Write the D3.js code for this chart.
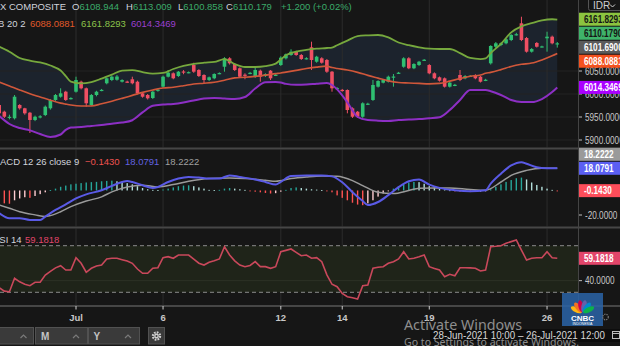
<!DOCTYPE html>
<html>
<head>
<meta charset="utf-8">
<script src="https://cdn.jsdelivr.net/npm/d3@7/dist/d3.min.js"></script>
<style>
  html, body { margin: 0; padding: 0; background: #161616; overflow: hidden; }
  svg { display: block; font-family: "Liberation Sans", Arial, sans-serif; }
</style>
</head>
<body>
<svg id="chart" width="620" height="346"></svg>
<script>
// ---------- hourly candles, 28-Jun-2021 10:00 .. 26-Jul-2021 12:00 ----------
const candleOpen = [
  5976.1,5961.5,5949.5,5947.2,5976.1,5968.9,5959.3,5943.5,5950.6,5954.3,
  5968.9,5987.0,5994.1,6005.0,5990.0,6005.0,6026.7,6012.4,5976.1,5997.8,
  6008.0,6023.3,6030.4,6031.0,6026.7,6027.0,6032.0,6026.7,6001.5,5997.8,
  5991.3,6008.0,6015.9,6037.6,6045.0,6039.1,6049.0,6047.0,6063.0,6052.2,
  6041.3,6030.4,6034.1,6044.5,6059.3,6077.6,6065.2,6055.9,6042.0,6045.0,
  6037.6,6050.7,6039.1,6050.7,6041.0,6063.0,6077.6,6084.8,6092.0,6084.8,
  6077.0,6101.5,6070.2,6077.6,6073.9,6048.5,6012.0,6009.0,6008.7,5968.9,
  5961.5,5950.6,5978.0,5987.0,6015.9,6024.6,6026.7,6036.5,6045.5,6059.3,
  6077.6,6055.9,6063.0,6073.5,6063.0,6045.0,6036.3,6034.1,6015.9,6019.0,
  6041.3,6034.1,6038.5,6041.3,6037.6,6030.0,6066.7,6102.8,6106.5,6110.2,
  6117.4,6129.0,6153.7,6121.7,6092.0,6110.9,6102.5,6121.1,6124.6,6108.944];
const candleHigh = [
  5980.4,5963.7,5955.0,5997.8,5978.0,5970.0,5961.0,5953.0,5954.0,5975.0,
  5989.0,6000.0,6012.4,6007.0,5993.0,6037.6,6029.0,6014.0,6000.0,6007.0,
  6011.0,6036.0,6040.0,6041.3,6032.0,6029.0,6037.6,6029.0,6003.0,6000.0,
  6007.0,6012.0,6040.0,6052.2,6047.0,6050.0,6052.0,6049.0,6068.0,6054.0,
  6043.0,6038.0,6045.0,6047.0,6080.0,6080.0,6067.0,6058.0,6045.0,6048.0,
  6059.3,6053.0,6045.0,6052.0,6044.0,6082.0,6088.0,6097.2,6094.0,6087.0,
  6080.0,6113.7,6083.0,6080.0,6076.0,6050.0,6015.0,6011.0,6010.0,5971.0,
  5963.0,5982.0,5981.0,6030.4,6030.0,6032.0,6040.0,6043.5,6048.0,6080.0,
  6080.0,6067.0,6072.0,6076.0,6065.0,6047.0,6038.0,6036.0,6026.0,6022.0,
  6052.2,6041.0,6041.0,6043.0,6039.0,6033.0,6106.0,6113.0,6112.0,6121.0,
  6130.0,6133.0,6168.0,6124.0,6100.0,6113.0,6105.0,6135.4,6127.0,6113.009];
const candleLow = [
  5954.3,5947.8,5945.0,5944.6,5966.0,5955.0,5915.2,5941.0,5947.0,5952.0,
  5966.0,5985.0,5992.0,5985.0,5988.0,6003.0,6010.0,5972.4,5974.0,5995.0,
  6006.0,6021.0,6028.0,6029.0,6025.0,6024.0,6021.0,5999.0,5992.0,5988.0,
  5989.0,6005.0,6013.0,6036.0,6032.0,6037.0,6043.0,6045.0,6046.0,6037.0,
  6023.9,6028.0,6032.0,6043.0,6048.5,6064.0,6050.0,6035.0,6032.0,6043.0,
  6035.0,6026.7,6037.0,6030.4,6039.0,6061.0,6075.0,6083.0,6083.0,6074.0,
  6075.0,6052.2,6068.0,6066.0,6046.0,6005.0,6009.0,6005.0,5958.0,5948.0,
  5947.8,5948.0,5976.0,5985.0,6014.0,6023.0,6025.0,6015.9,6044.0,6057.0,
  6054.0,6054.0,6061.0,6072.0,6043.0,6032.0,6027.0,6014.0,6014.0,6017.0,
  6028.0,6032.0,6037.0,6032.0,6025.0,6028.0,6064.0,6100.0,6104.0,6108.0,
  6115.0,6127.0,6115.0,6090.0,6090.0,6101.0,6101.0,6092.0,6108.0,6100.858];
const candleClose = [
  5958.0,5950.6,5950.5,5994.1,5968.9,5958.0,5943.5,5950.6,5951.5,5972.4,
  5987.0,5997.8,6001.5,5987.0,5991.2,6030.4,6012.4,5979.8,5997.8,6005.0,
  6009.0,6034.1,6037.6,6038.0,6030.4,6026.5,6023.3,6001.5,5994.1,5990.6,
  6005.0,6009.5,6037.6,6046.3,6034.1,6048.5,6047.5,6047.5,6048.5,6039.1,
  6030.4,6036.3,6043.5,6045.5,6077.6,6066.7,6052.2,6037.6,6040.5,6046.0,
  6052.2,6037.6,6043.5,6034.1,6041.8,6079.0,6086.3,6092.0,6084.8,6076.1,
  6077.8,6073.9,6081.1,6068.0,6048.5,6012.4,6013.0,6008.0,5965.2,5950.6,
  5950.6,5979.8,5979.0,6019.6,6028.3,6030.4,6037.6,6038.0,6046.3,6077.6,
  6055.9,6065.2,6070.2,6074.5,6045.0,6034.1,6028.9,6015.9,6024.6,6020.0,
  6030.4,6039.1,6039.5,6034.1,6026.7,6031.0,6104.4,6110.2,6110.2,6118.9,
  6128.3,6130.0,6117.4,6092.0,6097.8,6102.8,6103.5,6124.6,6110.2,6110.179];

// ---------- Bollinger Bands (20, 2), sampled at these bar indices ----------
const bandIdx = [0,2,4,6,8,10,12,13,14,16,18,20,22,24,26,28,30,32,34,36,38,40,42,44,46,48,50,52,54,55,
  56,58,60,62,64,65,66,68,70,72,74,76,78,80,82,84,86,88,90,92,94,95,96,98,100,102,104,106,108,109];
const bbUpper = [6102.8,6092,6078.3,6072.4,6068.5,6062,6051,6039,6027,6023,6026,6033.5,6042,6051,6052,
  6047.5,6044.5,6045.7,6054.3,6061,6065.5,6068,6069.6,6076,6065,6058.7,6058.7,6060.5,6066,6075,
  6084,6092,6096,6098.5,6100,6101,6106,6116,6126,6127.5,6128.3,6123,6112,6106,6101.5,6098.5,6097.8,
  6097.8,6089,6078.3,6076,6077.5,6089,6109,6134,6147,6154,6160,6162.5,6161.8293];
const bbMiddle = [6026,6017.4,6008.7,6000.5,5993.5,5986.5,5980.2,5978,5976,5973.9,5973.9,5978.8,5984.3,
  5990.5,5997,6003.5,6008.7,6013,6014.7,6018,6021.7,6023.4,6025.5,6030,6035,6036.3,6038.3,6041,6044.3,
  6045.7,6047.5,6051.3,6055.3,6058.5,6060.5,6057.5,6055.5,6052,6047,6040.5,6034.5,6028.5,6025,6024,
  6023,6022,6023,6028,6033.5,6038.5,6041.3,6045,6047,6053,6060,6064.5,6067.2,6074,6083,6088.0881];
const bbLower = [5952.2,5934.8,5926.1,5921,5913,5906.5,5912,5922,5927,5928.3,5930.5,5932.6,5935.5,5938,
  5943,5960,5974.5,5977,5978.3,5981.5,5986,5990,5991.3,5990,5989.1,5993.5,6012,6025.5,6026,6025,6022,
  6020,6020.5,6022.3,6023.9,6019.6,6010,5982,5950,5943.5,5942,5941.5,5943.5,5944.5,5945.6,5947.5,
  5949.5,5965.2,5987,6008.7,6008.7,6008.7,6006,5997.8,5987,5982.5,5982.5,5989,6004.3,6014.3469];

// ---------- MACD (12, 26, close, 9) ----------
const macdIdx = [0,2,4,6,8,9,11,13,15,17,20,22,24,25,26,28,30,31,33,35,37,39,41,43,45,47,50,52,54,55,
  57,60,63,65,67,69,71,72,74,76,78,80,82,84,86,89,92,95,96,98,100,102,103,105,107,109];
const macdLine = [-18.5,-22.6,-22.6,-24,-24,-21.3,-15.9,-11.3,-6.5,-3.2,0.2,3.7,6.9,7.7,6.9,4.3,2.1,
  2.9,6.9,9.7,11,10.5,9.7,9.7,12.3,11,8.9,6.9,4.8,7.0,11.8,12.3,12.3,11.5,6.7,-1.4,-8.6,-11.9,-9.4,
  -3.8,2.7,7.5,8.9,4.8,2.1,0.2,-0.6,0.2,5.6,13.7,20.4,23.1,21.8,19,18.2,18.0791];
const signalIdx = [0,2,4,7,9,10,12,14,17,20,22,25,28,31,34,37,41,45,48,52,54,57,60,63,66,69,71,74,77,
  80,82,85,88,92,95,98,100,103,106,109];
const signalLine = [-11.9,-14.5,-17.3,-19.9,-21.3,-20.5,-17.3,-13.2,-8.6,-5.2,-1.1,2.9,4.3,2.9,4.8,
  7.5,9.7,10.2,9.7,8.3,7.5,9.7,11,11.8,11.5,8,4,-1.5,-2.5,0,1.8,2.1,2.1,0.8,0.2,6.9,12.3,16.4,18.2,18.2222];
const macdHist = [
  -9,-10.5,-10.8,-8,-6.5,-5.5,-6,-4.5,-3,-1.5,
  0.3,1.5,3,4,5,5.5,6,6.5,6.8,7,
  7.5,7.8,8,7.5,7,6,5,3.5,2,1,
  0.5,0.3,0.8,1.5,2.5,3.5,4,4.2,3.5,2.5,
  1.5,0.5,0.3,0.5,1.5,2,1.5,1,0.5,-0.3,
  -1,-1.5,-2,-2.5,-2.2,-1,0.5,2,2.5,2,
  1.5,1,0.7,0.4,-0.3,-1.5,-4,-6,-8,-10,
  -11.5,-12,-10.5,-8,-5,-2.5,-0.5,1.5,3.5,5,
  6.5,7,6.8,5.5,3.5,2.5,1.5,0.8,0.2,-0.4,
  -1,-1.2,-1.3,-1.2,-1,-0.5,1,3,5,7,
  8.5,10,10.5,9,6.5,4.5,3,1.5,0.5,-0.143];

// ---------- RSI 14 ----------
const rsiValues = [
  34,31,30.5,42,39,37,35.7,38.6,38.6,44.8,
  48,51,52.8,49.1,49.1,59.7,54.9,47.2,50.6,52.6,
  53.4,58.6,59.2,59.2,58,56.9,54.9,50,46.3,46.3,
  50.6,51.1,59.7,60.6,59.2,62,62,62,58.5,55,
  53.4,55.8,57,58.6,69.1,62,57,53.4,52,53,
  56.3,52,52,50.6,52,64.8,66,67.2,64.3,61.4,
  62,59.2,59.7,56.3,45,36.9,34.8,29,26.2,25.4,
  24.2,35.7,36.3,50.6,51.5,52,54.9,56.3,58.6,64.8,
  58.6,59.2,60.5,62,52,50.5,49.1,43.4,45.5,44.2,
  51.1,51.1,51,50.6,48.3,49.1,69.1,69.5,70,72.1,
  73.5,74.9,66.3,57.7,59.2,59.7,59.7,64.8,59.7,59.1818];

// ---------- axes and legend values ----------
const timeTickIdx = [15, 32, 55, 67, 84, 107];
const timeTickLabels = ["Jul", "6", "12", "14", "19", "26"];
const priceTicks = [5900, 5950, 6000, 6050];
const macdTicks = [-20];
const rsiTicks = [40];
const rsiBounds = [30, 70];
const refPrice = 6101.69;
const priceChange = 1.2;
const priceChangePct = 0.02;
const symbolName = "IDX COMPOSITE";
const dateRange = "28-Jun-2021 10:00 \u2013 26-Jul-2021 12:00";

// ---------- layout ----------
const PLOT_R = 578;
const GREEN = "#2fbf71", RED = "#ef4f63";
const C_UP = "#76a83d", C_MID = "#d0573a", C_LO = "#8d2fc4";
const C_MACD = "#5a5ae6", C_SIG = "#9a9a9a", C_RSI = "#c9485b";

const svg = d3.select("#chart");
const x = d3.scaleLinear().domain([0, 113]).range([-0.8, 577.76]);
const yMain = d3.scaleLinear().domain([5900, 6050]).range([140, 71]);
const yMacd = d3.scaleLinear().domain([-20, 18.0791]).range([215, 168.3]);
const yRsi = d3.scaleLinear().domain(rsiBounds).range([292.3, 245.7]);

const panels = { main: [0, 147.5], macd: [149.5, 226.5], rsi: [228.5, 305] };

svg.append("rect").attr("width", 620).attr("height", 346).attr("fill", "#161616");

const defs = svg.append("defs");
Object.entries(panels).forEach(([k, [t, b]]) => {
  defs.append("clipPath").attr("id", "clip-" + k)
    .append("rect").attr("x", 0).attr("y", t).attr("width", PLOT_R).attr("height", b - t);
});

const gMain = svg.append("g").attr("clip-path", "url(#clip-main)");
const gMacd = svg.append("g").attr("clip-path", "url(#clip-macd)");
const gRsi = svg.append("g").attr("clip-path", "url(#clip-rsi)");

// ---------- main panel: bands ----------
const bands = bandIdx.map((i, k) => ({ i, up: bbUpper[k], mid: bbMiddle[k], lo: bbLower[k] }));
gMain.append("path").datum(bands)
  .attr("fill", "#1c232d")
  .attr("d", d3.area().x(d => x(d.i)).y0(d => yMain(d.lo)).y1(d => yMain(d.up)).curve(d3.curveMonotoneX));

// grid
gMain.selectAll("line.hgrid").data(priceTicks).join("line")
  .attr("x1", 0).attr("x2", PLOT_R).attr("y1", d => yMain(d)).attr("y2", d => yMain(d))
  .attr("stroke", "#232323").attr("stroke-width", 1);
[gMain, gMacd, gRsi].forEach(g => {
  g.selectAll("line.vgrid").data(timeTickIdx).join("line")
    .attr("x1", d => x(d)).attr("x2", d => x(d)).attr("y1", 0).attr("y2", 305)
    .attr("stroke", "#2c2c2c").attr("stroke-width", 1);
});

// candles
const candles = d3.range(candleOpen.length).map(i => ({
  i, o: candleOpen[i], h: candleHigh[i], l: candleLow[i], c: candleClose[i]
}));
const candleColor = d => d.c >= d.o ? GREEN : RED;
gMain.selectAll("line.wick").data(candles).join("line")
  .attr("x1", d => x(d.i)).attr("x2", d => x(d.i))
  .attr("y1", d => yMain(d.h)).attr("y2", d => yMain(d.l))
  .attr("stroke", candleColor).attr("stroke-width", 1);
gMain.selectAll("rect.body").data(candles).join("rect")
  .attr("x", d => x(d.i) - 1.8).attr("width", 3.6)
  .attr("y", d => yMain(Math.max(d.o, d.c)))
  .attr("height", d => Math.max(1.2, Math.abs(yMain(d.o) - yMain(d.c))))
  .attr("fill", candleColor);

// band lines
const bandLine = key => d3.line().x(d => x(d.i)).y(d => yMain(d[key])).curve(d3.curveMonotoneX);
gMain.append("path").datum(bands).attr("fill", "none").attr("stroke", C_UP).attr("stroke-width", 1.8).attr("d", bandLine("up"));
gMain.append("path").datum(bands).attr("fill", "none").attr("stroke", C_MID).attr("stroke-width", 1.6).attr("d", bandLine("mid"));
gMain.append("path").datum(bands).attr("fill", "none").attr("stroke", C_LO).attr("stroke-width", 2).attr("d", bandLine("lo"));

// ---------- MACD panel ----------
const hist = macdHist.map((v, i) => ({ i, v, prev: i > 0 ? macdHist[i - 1] : v }));
const histColor = d => d.v >= 0 ? (d.v >= d.prev ? "#26a69a" : "#b2dfdb") : (d.v < d.prev ? "#ff5252" : "#ffcdd2");
gMacd.selectAll("rect.hist").data(hist).join("rect")
  .attr("x", d => x(d.i) - 0.7).attr("width", 1.4)
  .attr("y", d => yMacd(Math.max(d.v, 0)))
  .attr("height", d => Math.max(0.9, Math.abs(yMacd(d.v) - yMacd(0))))
  .attr("fill", histColor);
const sigPts = signalIdx.map((i, k) => ({ i, v: signalLine[k] }));
const macdPts = macdIdx.map((i, k) => ({ i, v: macdLine[k] }));
const macdGen = d3.line().x(d => x(d.i)).y(d => yMacd(d.v)).curve(d3.curveMonotoneX);
gMacd.append("path").datum(sigPts).attr("fill", "none").attr("stroke", C_SIG).attr("stroke-width", 1.5).attr("d", macdGen);
gMacd.append("path").datum(macdPts).attr("fill", "none").attr("stroke", C_MACD).attr("stroke-width", 2).attr("d", macdGen);

// ---------- RSI panel ----------
gRsi.append("rect").attr("x", 0).attr("width", PLOT_R)
  .attr("y", yRsi(rsiBounds[1])).attr("height", yRsi(rsiBounds[0]) - yRsi(rsiBounds[1]))
  .attr("fill", "#1f2419");
gRsi.selectAll("line.rgrid").data(rsiTicks).join("line")
  .attr("x1", 0).attr("x2", PLOT_R).attr("y1", d => yRsi(d)).attr("y2", d => yRsi(d))
  .attr("stroke", "#2d3226").attr("stroke-width", 1);
gRsi.selectAll("line.bound").data(rsiBounds).join("line")
  .attr("x1", 0).attr("x2", PLOT_R).attr("y1", d => yRsi(d)).attr("y2", d => yRsi(d))
  .attr("stroke", "#8a8a8a").attr("stroke-width", 1).attr("stroke-dasharray", "4,3");
gRsi.append("path").datum(rsiValues.map((v, i) => ({ i, v })))
  .attr("fill", "none").attr("stroke", C_RSI).attr("stroke-width", 1.6)
  .attr("d", d3.line().x(d => x(d.i)).y(d => yRsi(d.v)));

// ---------- separators and frame ----------
[147.5, 226.5, 305].forEach(y => svg.append("rect").attr("x", 0).attr("y", y).attr("width", 620).attr("height", 2).attr("fill", "#464646"));
svg.append("line").attr("x1", PLOT_R + 0.5).attr("x2", PLOT_R + 0.5).attr("y1", 0).attr("y2", 306)
  .attr("stroke", "#444").attr("stroke-width", 1);

// ---------- right price scale ----------
const gAxis = svg.append("g");
function axisText(xPos, yc, txt, fill, weight) {
  gAxis.append("text")
    .attr("transform", `translate(${xPos},${yc + 3.6}) scale(0.82,1)`)
    .attr("fill", fill).attr("font-size", 10).attr("font-weight", weight || 400)
    .text(txt);
}
function plainTick(yc, txt) {
  gAxis.append("line").attr("x1", 579).attr("x2", 582).attr("y1", yc).attr("y2", yc).attr("stroke", "#bbb");
  axisText(585, yc, txt, "#c8c8c8");
}
priceTicks.forEach(v => plainTick(yMain(v), v.toFixed(4)));
macdTicks.forEach(v => plainTick(yMacd(v), v.toFixed(4)));
rsiTicks.forEach(v => plainTick(yRsi(v), v.toFixed(4)));

// colored value tags, stacked around an anchor tag so they never overlap
function placeTags(tags, anchor, scale) {
  const gap = 14;
  tags.forEach(t => t.y = scale(t.v));
  const a = tags[anchor];
  const above = tags.filter(t => t !== a && t.y <= a.y).sort((p, q) => q.y - p.y);
  const below = tags.filter(t => t !== a && t.y > a.y).sort((p, q) => p.y - q.y);
  let prev = a.y;
  above.forEach(t => { t.y = Math.min(t.y, prev - gap); prev = t.y; });
  prev = a.y;
  below.forEach(t => { t.y = Math.max(t.y, prev + gap); prev = t.y; });
  tags.forEach(t => {
    gAxis.append("rect").attr("x", 579).attr("y", t.y - 6.5).attr("width", 42).attr("height", 13).attr("fill", t.bg);
    axisText(584, t.y, t.v.toFixed(4), t.fg, 700);
  });
}
const lastIdx = candleClose.length - 1;
placeTags([
  { v: refPrice, bg: "#5b5b5b", fg: "#ffffff" },
  { v: candleClose[lastIdx], bg: "#3fb36a", fg: "#151515" },
  { v: bbUpper[bbUpper.length - 1], bg: "#8cc43f", fg: "#151515" },
  { v: bbMiddle[bbMiddle.length - 1], bg: "#f4511e", fg: "#ffffff" },
  { v: bbLower[bbLower.length - 1], bg: "#aa00ff", fg: "#ffffff" }
], 0, yMain);
placeTags([
  { v: macdLine[macdLine.length - 1], bg: "#5b5ff2", fg: "#ffffff" },
  { v: signalLine[signalLine.length - 1], bg: "#9a9a9a", fg: "#ffffff" },
  { v: macdHist[macdHist.length - 1], bg: "#ff4d5a", fg: "#ffffff" }
], 0, yMacd);
placeTags([
  { v: rsiValues[rsiValues.length - 1], bg: "#e2456a", fg: "#ffffff" }
], 0, yRsi);

// currency selector
svg.append("rect").attr("x", 588.5).attr("y", -3).attr("width", 34).attr("height", 13.5)
  .attr("fill", "none").attr("stroke", "#555").attr("rx", 2);
svg.append("text").attr("x", 593).attr("y", 8.5).attr("font-size", 10).attr("fill", "#cfcfcf").text("IDR");
svg.append("path").attr("d", "M610,4.5 L612.5,7 L615,4.5").attr("fill", "none").attr("stroke", "#cfcfcf").attr("stroke-width", 1);

// ---------- time axis ----------
const gTime = svg.append("g");
gTime.selectAll("line").data(timeTickIdx).join("line")
  .attr("x1", d => x(d)).attr("x2", d => x(d)).attr("y1", 306).attr("y2", 309.5)
  .attr("stroke", "#cfcfcf");
gTime.selectAll("text").data(timeTickIdx).join("text")
  .attr("x", d => x(d)).attr("y", 321).attr("text-anchor", "middle")
  .attr("font-size", 9.5).attr("font-weight", 700).attr("fill", "#c8c8c8")
  .text((d, k) => timeTickLabels[k]);

// ---------- legends ----------
const FS = 9.5, LEG = "#d1d4dc", UPC = "#3bab6a";
function legend(xPos, yPos, parts) {
  const t = svg.append("text").attr("x", xPos).attr("y", yPos).attr("font-size", FS);
  parts.forEach(([txt, col]) => t.append("tspan").attr("fill", col).text(txt));
}
legend(-9.5, 9.5, [[symbolName, LEG]]);
legend(72, 9.5, [["O", LEG], [candleOpen[lastIdx].toFixed(3), UPC]]);
legend(126, 9.5, [["H", LEG], [candleHigh[lastIdx].toFixed(3), UPC]]);
legend(178, 9.5, [["L", LEG], [candleLow[lastIdx].toFixed(3), UPC]]);
legend(226, 9.5, [["C", LEG], [candleClose[lastIdx].toFixed(3), UPC]]);
legend(281, 9.5, [[`+${priceChange.toFixed(3)} (+${priceChangePct.toFixed(2)}%)`, UPC]]);

legend(-8.3, 26.5, [["BB 20 2", LEG]]);
legend(30, 26.5, [[bbMiddle[bbMiddle.length - 1].toFixed(4), "#e0592a"]]);
legend(81, 26.5, [[bbUpper[bbUpper.length - 1].toFixed(4), "#8bc34a"]]);
legend(131, 26.5, [[bbLower[bbLower.length - 1].toFixed(4), "#9b3fd0"]]);

legend(-7.9, 165, [["MACD 12 26 close 9", LEG]]);
legend(85, 165, [["\u2212" + Math.abs(macdHist[macdHist.length - 1]).toFixed(4), "#ef5350"]]);
legend(125, 165, [[macdLine[macdLine.length - 1].toFixed(4), "#6262e0"]]);
legend(165, 165, [[signalLine[signalLine.length - 1].toFixed(4), "#a0a0a0"]]);

legend(-7.5, 242.5, [["RSI 14", LEG]]);
legend(25, 242.5, [[rsiValues[rsiValues.length - 1].toFixed(4), "#e0456a"]]);

// ---------- bottom toolbar ----------
const gBar = svg.append("g");
[[-3, 36], [35, 52], [88, 51], [148, 16]].forEach(([bx, bw]) => {
  gBar.append("rect").attr("x", bx + 0.5).attr("y", 327.5).attr("width", bw).attr("height", 16.5)
    .attr("fill", "#3a3a3a").attr("stroke", "#515151");
});
[23.5, 76, 128].forEach(cx => {
  gBar.append("path").attr("d", `M${cx - 3},338 L${cx},335 L${cx + 3},338`)
    .attr("fill", "none").attr("stroke", "#7a7a7a").attr("stroke-width", 1.2);
});
gBar.append("text").attr("x", 41).attr("y", 340).attr("font-size", 10).attr("font-weight", 700).attr("fill", "#c4c4c4").text("M");
gBar.append("text").attr("x", 93.5).attr("y", 340).attr("font-size", 10).attr("font-weight", 700).attr("fill", "#c4c4c4").text("Y");
gBar.append("circle").attr("cx", 156.5).attr("cy", 336).attr("r", 3.6)
  .attr("fill", "none").attr("stroke", "#d0d0d0").attr("stroke-width", 2.2).attr("stroke-dasharray", "1.7,1.1");
gBar.append("circle").attr("cx", 156.5).attr("cy", 336).attr("r", 2.4).attr("fill", "#d0d0d0");
gBar.append("circle").attr("cx", 156.5).attr("cy", 336).attr("r", 1).attr("fill", "#3a3a3a");

// ---------- range box ----------
svg.append("rect").attr("x", 430).attr("y", 329).attr("width", 190).attr("height", 13).attr("fill", "#0d0d0d");
svg.append("text").attr("x", 433).attr("y", 339).attr("font-size", 10).attr("fill", "#d8d8d8")
  .attr("textLength", 172).attr("lengthAdjust", "spacingAndGlyphs").text(dateRange);
svg.append("rect").attr("x", 612.5).attr("y", 331.5).attr("width", 7).attr("height", 7).attr("fill", "none").attr("stroke", "#bbb");
svg.append("line").attr("x1", 612.5).attr("x2", 619.5).attr("y1", 333.5).attr("y2", 333.5).attr("stroke", "#bbb");

// ---------- CNBC badge ----------
const gLogo = svg.append("g");
gLogo.append("rect").attr("x", 562).attr("y", 293).attr("width", 41).attr("height", 33).attr("fill", "#2a64a8").attr("opacity", 0.85);
const feathers = ["#fcb711", "#f37021", "#cc004c", "#6460aa", "#0089d0", "#0db14b"];
feathers.forEach((col, k) => {
  const ang = -62.5 + k * 25;
  gLogo.append("ellipse").attr("cx", 0).attr("cy", -7).attr("rx", 2.6).attr("ry", 6)
    .attr("fill", col)
    .attr("transform", `translate(582.5,313) rotate(${ang})`);
});
gLogo.append("text").attr("x", 582.5).attr("y", 320.5).attr("text-anchor", "middle")
  .attr("font-size", 8).attr("font-weight", 700).attr("fill", "#ffffff").text("CNBC");
gLogo.append("text").attr("x", 582.5).attr("y", 324.6).attr("text-anchor", "middle")
  .attr("font-size", 3.6).attr("fill", "#ffffff").text("INDONESIA");
svg.append("circle").attr("cx", 605.5).attr("cy", 317).attr("r", 2.8).attr("fill", "none")
  .attr("stroke", "#777").attr("stroke-width", 1.2).attr("stroke-dasharray", "1.4,0.9");

// ---------- system watermark ----------
svg.append("text").attr("x", 404).attr("y", 330).attr("font-family", "'Noto Sans', sans-serif")
  .attr("font-size", 15).attr("fill", "#8e8e8e").attr("textLength", 118).attr("lengthAdjust", "spacingAndGlyphs")
  .text("Activate Windows");
svg.append("text").attr("x", 404).attr("y", 346).attr("font-family", "'Noto Sans', sans-serif")
  .attr("font-size", 11.5).attr("fill", "#8e8e8e").attr("textLength", 175).attr("lengthAdjust", "spacingAndGlyphs")
  .text("Go to Settings to activate Windows.");
</script>
</body>
</html>
